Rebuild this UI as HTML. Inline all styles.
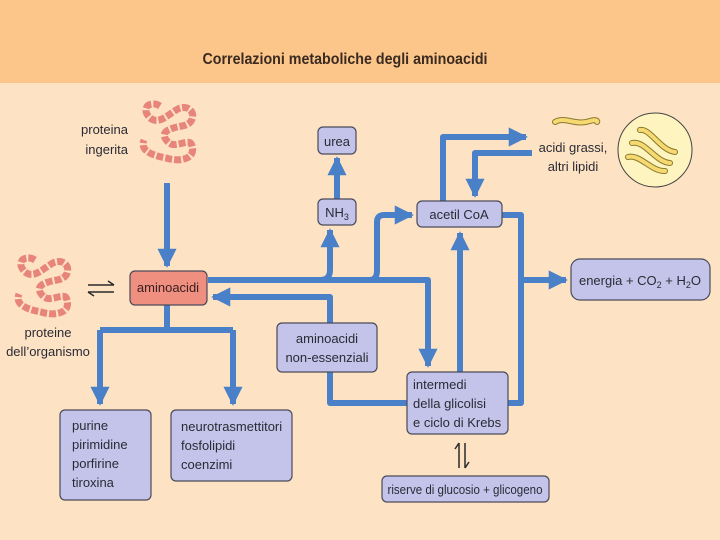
<!DOCTYPE html>
<html><head><meta charset="utf-8"><style>
html,body{margin:0;padding:0;background:#fde3c4;}
svg{display:block;font-family:"Liberation Sans",sans-serif;}
</style></head><body>
<svg width="720" height="540" viewBox="0 0 720 540" xmlns="http://www.w3.org/2000/svg">
<defs>
<marker id="a" viewBox="0 0 10 10" refX="9" refY="5" markerWidth="3.2" markerHeight="3.2" orient="auto" markerUnits="strokeWidth"><path d="M0,0 L10,5 L0,10 z" fill="#4a80c8"/></marker>
<path id="ch" d="M160,106 C150,100 140,108 150,118 C160,126 170,112 180,108 C195,104 198,124 182,126 C170,128 158,132 168,142 C176,150 190,136 192,146 C196,160 178,162 166,158 C150,155 140,150 144,140"/>
</defs>
<rect x="0" y="0" width="720" height="83" fill="#fcc68a"/>
<rect x="0" y="83" width="720" height="457" fill="#fde3c4"/>
<text x="345" y="64" text-anchor="middle" font-size="16" font-weight="bold" fill="#3a2a20" textLength="285" lengthAdjust="spacingAndGlyphs">Correlazioni metaboliche degli aminoacidi</text>

<g fill="none" stroke="#4a80c8" stroke-width="6" stroke-linejoin="round">
<path d="M167,183 V266" marker-end="url(#a)"/>
<path d="M208,280 H320 Q330,280 330,270 V230" marker-end="url(#a)"/>
<path d="M337,199 V158" marker-end="url(#a)"/>
<path d="M320,280 H370 Q377,280 377,270 V222 Q377,215 384,215 H412" marker-end="url(#a)"/>
<path d="M370,280 H428 V366" marker-end="url(#a)"/>
<path d="M330,323 V297 H213" marker-end="url(#a)"/>
<path d="M330,372 V403 H407"/>
<path d="M508,403 H521 V215 H502"/>
<path d="M521,280 H566" marker-end="url(#a)"/>
<path d="M460,372 V233" marker-end="url(#a)"/>
<path d="M443,201 V137 H526" marker-end="url(#a)"/>
<path d="M532,153 H475 V196" marker-end="url(#a)"/>
<path d="M167,305 V330"/>
<path d="M100,330 H233"/>
<path d="M100,330 V404" marker-end="url(#a)"/>
<path d="M233,330 V404" marker-end="url(#a)"/>
</g>

<g stroke="#4a4a5a" stroke-width="1.2" fill="#c4c4ea">
<rect x="318" y="127" width="38" height="27" rx="5"/>
<rect x="318" y="199" width="38" height="26" rx="5"/>
<rect x="417" y="201" width="85" height="26" rx="5"/>
<rect x="571" y="259" width="139" height="41" rx="9"/>
<rect x="277" y="323" width="100" height="49" rx="5"/>
<rect x="407" y="372" width="101" height="62" rx="5"/>
<rect x="60" y="410" width="91" height="90" rx="5"/>
<rect x="171" y="410" width="121" height="71" rx="5"/>
<rect x="382" y="476" width="167" height="26" rx="5"/>
<rect x="130" y="271" width="77" height="34" rx="5" fill="#ee8f80"/>
</g>

<g font-size="13" fill="#2a2a35">
<text x="337" y="146" text-anchor="middle">urea</text>
<text x="337" y="217" text-anchor="middle">NH<tspan font-size="9" dy="3">3</tspan></text>
<text x="459" y="219" text-anchor="middle">acetil CoA</text>
<text x="640" y="285" text-anchor="middle">energia + CO<tspan font-size="9" dy="3">2</tspan><tspan dy="-3"> + H</tspan><tspan font-size="9" dy="3">2</tspan><tspan dy="-3">O</tspan></text>
<text x="327" y="343" text-anchor="middle">aminoacidi</text>
<text x="327" y="362" text-anchor="middle">non-essenziali</text>
<text x="413" y="389">intermedi</text>
<text x="413" y="408">della glicolisi</text>
<text x="413" y="427">e ciclo di Krebs</text>
<text x="72" y="430">purine</text>
<text x="72" y="449">pirimidine</text>
<text x="72" y="468">porfirine</text>
<text x="72" y="487">tiroxina</text>
<text x="181" y="431">neurotrasmettitori</text>
<text x="181" y="450">fosfolipidi</text>
<text x="181" y="469">coenzimi</text>
<text x="465" y="494" text-anchor="middle" textLength="155" lengthAdjust="spacingAndGlyphs">riserve di glucosio + glicogeno</text>
<text x="168" y="292" text-anchor="middle" fill="#3a2020">aminoacidi</text>
<text x="128" y="134" text-anchor="end">proteina</text>
<text x="128" y="154" text-anchor="end">ingerita</text>
<text x="48" y="337" text-anchor="middle">proteine</text>
<text x="48" y="356" text-anchor="middle">dell’organismo</text>
<text x="573" y="152" text-anchor="middle">acidi grassi,</text>
<text x="573" y="171" text-anchor="middle">altri lipidi</text>
</g>

<g stroke="#2a2a2a" stroke-width="1.5" fill="none">
<path d="M88,285 H114 M108,281 L114,285"/>
<path d="M88,292 H114 M88,292 L94,296"/>
<path d="M459,443 V468 M459,443 L455,449"/>
<path d="M465,443 V468 M465,468 L469,462"/>
</g>

<g fill="none" stroke-linecap="butt">
<use href="#ch" stroke="#e8857a" stroke-width="7" stroke-dasharray="7 2"/>
<g transform="translate(-125,154)">
<use href="#ch" stroke="#e8857a" stroke-width="7" stroke-dasharray="7 2"/>
</g>
</g>

<circle cx="655" cy="150" r="37" fill="#fdf4bf" stroke="#444" stroke-width="1"/>
<g fill="none" stroke-linecap="round">
<path d="M555,122 C565,116 575,126 590,121 C596,119 598,121 597,122" stroke="#8a7a30" stroke-width="6"/>
<path d="M555,122 C565,116 575,126 590,121 C596,119 598,121 597,122" stroke="#f6d970" stroke-width="4"/>
<g stroke="#8a7a30" stroke-width="6">
<path d="M640,130 C650,128 660,150 675,152"/>
<path d="M632,143 C645,140 655,162 670,163"/>
<path d="M628,157 C640,154 652,172 665,171"/>
</g>
<g stroke="#f6d970" stroke-width="4">
<path d="M640,130 C650,128 660,150 675,152"/>
<path d="M632,143 C645,140 655,162 670,163"/>
<path d="M628,157 C640,154 652,172 665,171"/>
</g>
</g>
</svg>
</body></html>
